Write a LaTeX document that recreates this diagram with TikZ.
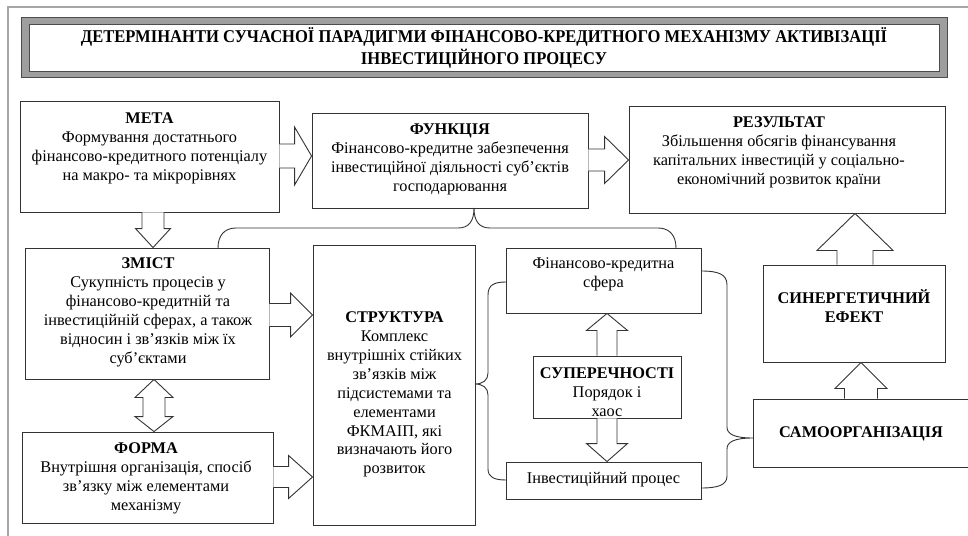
\documentclass[tikz,border=0pt]{standalone}
\usepackage{fontspec}
\setmainfont{Liberation Serif}
\newfontfamily\condfont[FakeStretch=0.92]{Liberation Serif}
\usetikzlibrary{calc}
% right-pointing block arrow: src, dst, y, shaft half, head half, head length
\newcommand\rarr[6]{%
  \draw[blk] let \p1=(#1.east), \p2=(#2.west) in
    (\x1,{(-(#3)+(#4))*1pt}) -- ({\x2-(#6)*1pt},{(-(#3)+(#4))*1pt}) -- ({\x2-(#6)*1pt},{(-(#3)+(#5))*1pt}) -- (\x2,{-(#3)*1pt}) -- ({\x2-(#6)*1pt},{(-(#3)-(#5))*1pt}) -- ({\x2-(#6)*1pt},{(-(#3)-(#4))*1pt}) -- (\x1,{(-(#3)-(#4))*1pt});}
% down-pointing block arrow: src (above), dst (below), x, shaft half, head half, head length
\newcommand\darr[6]{%
  \draw[blk] let \p1=(#1.south), \p2=(#2.north) in
    ({(#3-#4)*1pt},\y1) -- ({(#3-#4)*1pt},{\y2+(#6)*1pt}) -- ({(#3-#5)*1pt},{\y2+(#6)*1pt}) -- ({#3*1pt},\y2) -- ({(#3+#5)*1pt},{\y2+(#6)*1pt}) -- ({(#3+#4)*1pt},{\y2+(#6)*1pt}) -- ({(#3+#4)*1pt},\y1);}
% up-pointing block arrow: src (below), dst (above)
\newcommand\uarr[6]{%
  \draw[blk] let \p1=(#1.north), \p2=(#2.south) in
    ({(#3-#4)*1pt},\y1) -- ({(#3-#4)*1pt},{\y2-(#6)*1pt}) -- ({(#3-#5)*1pt},{\y2-(#6)*1pt}) -- ({#3*1pt},\y2) -- ({(#3+#5)*1pt},{\y2-(#6)*1pt}) -- ({(#3+#4)*1pt},{\y2-(#6)*1pt}) -- ({(#3+#4)*1pt},\y1);}
% double vertical block arrow between top node and bottom node
\newcommand\dblarr[7]{%
  \draw[blk] let \p1=(#1.south), \p2=(#2.north) in
    ({#3*1pt},\y1) -- ({(#3+#5)*1pt},{\y1-(#6)*1pt}) -- ({(#3+#4)*1pt},{\y1-(#6)*1pt}) -- ({(#3+#4)*1pt},{\y2+(#7)*1pt}) -- ({(#3+#5)*1pt},{\y2+(#7)*1pt}) -- ({#3*1pt},\y2) -- ({(#3-#5)*1pt},{\y2+(#7)*1pt}) -- ({(#3-#4)*1pt},{\y2+(#7)*1pt}) -- ({(#3-#4)*1pt},{\y1-(#6)*1pt}) -- ({(#3-#5)*1pt},{\y1-(#6)*1pt}) -- cycle;}
\begin{document}
\begin{tikzpicture}[x=1pt,y=1pt,
  box/.style={draw=black!80, line width=0.9pt, fill=white, inner sep=0pt, rectangle},
  txt/.style={align=center, font=\fontsize{16.3}{18.9}\selectfont, inner sep=0pt, text=black},
  blk/.style={draw=black!80, line width=0.9pt, fill=white, line join=miter},
  brc/.style={draw=black!80, line width=0.9pt}
]
\useasboundingbox (0,0) rectangle (968,-535);
\fill[white] (0,0) rectangle (968,-535);
% page frame
\draw[black!35, line width=2pt] (8,-560) -- (8,-7) -- (990,-7);
% title
\node[draw=black!70, fill=black!38, line width=0.8pt, minimum width=926, minimum height=60, inner sep=0pt] (tframe) at (484,-47) {};
\node[draw=black!70, fill=white, line width=0.8pt, minimum width=910, minimum height=47, inner sep=0pt] (title) at (484,-47.5) {};
\node[anchor=north, align=center, inner sep=0pt, font=\condfont\bfseries\fontsize{18}{18.5}\selectfont] (titlet) at (484,{-40+12.95}) {\strut ДЕТЕРМІНАНТИ СУЧАСНОЇ ПАРАДИГМИ ФІНАНСОВО-КРЕДИТНОГО МЕХАНІЗМУ АКТИВІЗАЦІЇ\\ІНВЕСТИЦІЙНОГО ПРОЦЕСУ};
% boxes
\node[box, minimum width=259, minimum height=111] (meta) at (149.5,-156.5) {};
\node[box, minimum width=276, minimum height=95] (func) at (450,-160.5) {};
\node[box, minimum width=316, minimum height=107] (res) at (787,-159.5) {};
\node[box, minimum width=244, minimum height=131] (zmist) at (147,-313.5) {};
\node[box, minimum width=251, minimum height=91] (forma) at (147.5,-477.5) {};
\node[box, minimum width=162, minimum height=280] (struct) at (394,-385) {};
\node[box, minimum width=195, minimum height=65] (fin) at (603.5,-280.5) {};
\node[box, minimum width=148, minimum height=62] (sup) at (607,-387) {};
\node[box, minimum width=195, minimum height=37] (inv) at (603.5,-480.5) {};
\node[box, minimum width=182, minimum height=97] (syn) at (854,-313.5) {};
\node[box, minimum width=232, minimum height=68] (samo) at (869,-433) {};
% texts
\node[txt, anchor=north] (metat) at (149.5,{-123.4+13.23}) {\strut\textbf{МЕТА}\\Формування достатнього\\фінансово-кредитного потенціалу\\на макро- та мікрорівнях};
\node[txt, anchor=north] (funct) at (450,{-134.4+13.23}) {\strut\textbf{ФУНКЦІЯ}\\Фінансово-кредитне забезпечення\\інвестиційної діяльності суб’єктів\\господарювання};
\node[txt, anchor=north] (rest) at (779,{-127.4+13.23}) {\strut\textbf{РЕЗУЛЬТАТ}\\Збільшення обсягів фінансування\\капітальних інвестицій у соціально-\\економічний розвиток країни};
\node[txt, anchor=north] (zmistt) at (148,{-268.4+13.23}) {\strut\textbf{ЗМІСТ}\\Сукупність процесів у\\фінансово-кредитній та\\інвестиційній сферах, а також\\відносин і зв’язків між їх\\суб’єктами};
\node[txt, anchor=north] (format) at (146,{-453.4+13.23}) {\strut\textbf{ФОРМА}\\Внутрішня організація, спосіб\\зв’язку між елементами\\механізму};
\node[txt, anchor=north] (structt) at (394.5,{-322.4+13.23}) {\strut\textbf{СТРУКТУРА}\\Комплекс\\внутрішніх стійких\\зв’язків між\\підсистемами та\\елементами\\ФКМАІП, які\\визначають його\\розвиток};
\node[txt, anchor=north] (fint) at (603.5,{-268+13.23}) {\strut Фінансово-кредитна\\сфера};
\node[txt, anchor=north] (supt) at (607,{-378+13.23}) {\strut\textbf{СУПЕРЕЧНОСТІ}\\Порядок і\\хаос};
\node[txt, anchor=north] (invt) at (603.5,{-483+13.23}) {\strut Інвестиційний процес};
\node[txt, anchor=north] (synt) at (854,{-302.4+13.23}) {\strut\textbf{СИНЕРГЕТИЧНИЙ}\\\textbf{ЕФЕКТ}};
\node[txt, anchor=north] (samot) at (861,{-437.4+13.23}) {\strut\textbf{САМООРГАНІЗАЦІЯ}};
% block arrows
\rarr{meta}{func}{156}{12}{29}{17}
\rarr{func}{res}{160}{11}{23.5}{24}
\rarr{zmist}{struct}{315}{11.5}{22}{22}
\rarr{forma}{struct}{477}{10.5}{21.5}{24}
\darr{meta}{zmist}{153}{11}{17.5}{19}
\dblarr{zmist}{forma}{154}{11}{19}{18}{15}
\uarr{sup}{fin}{607}{10}{20.5}{17}
\darr{sup}{inv}{607}{10}{20.5}{18}
\uarr{syn}{res}{855}{18}{38}{37}
\uarr{samo}{syn}{861}{16.5}{26}{26}
% braces
\coordinate (tb) at (474,-208);
\coordinate (tbl) at (218,-248);
\coordinate (tbr) at (676,-248);
\draw[brc] (tbl) .. controls (218,-236) and (224,-228) .. (236,-228) -- (458,-228) .. controls (469,-228) and (474,-221) .. (tb) .. controls (474,-221) and (479,-228) .. (490,-228) -- (658,-228) .. controls (670,-228) and (676,-236) .. (tbr);
\coordinate (lbt) at (506,-282);
\coordinate (lbm) at (475,-384);
\coordinate (lbb) at (506,-480);
\draw[brc] (lbt) .. controls (494,-282) and (488,-285) .. (488,-295) -- (488,-373) .. controls (488,-380) and (483,-384) .. (lbm) .. controls (483,-384) and (488,-388) .. (488,-395) -- (488,-469) .. controls (488,-477) and (494,-480) .. (lbb);
\coordinate (rbt) at (701,-271);
\coordinate (rbm) at (753,-438);
\coordinate (rbb) at (701,-488);
\draw[brc] (rbt) .. controls (718,-271) and (727,-274) .. (727,-285) -- (727,-427) .. controls (727,-434) and (734,-438) .. (rbm) .. controls (734,-438) and (727,-442) .. (727,-449) -- (727,-476) .. controls (727,-485) and (718,-488) .. (rbb);
\end{tikzpicture}
\end{document}
